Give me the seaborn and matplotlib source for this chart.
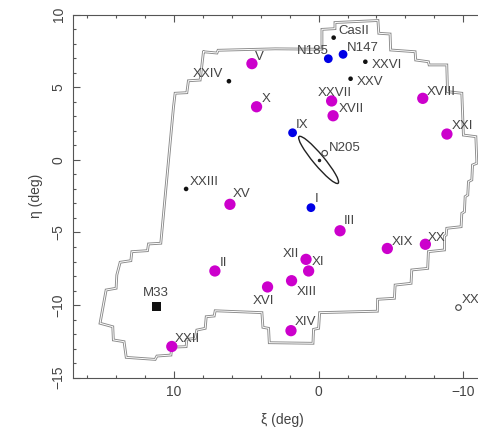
import pandas as pd
import matplotlib.pyplot as plt
import seaborn as sns
from matplotlib.patches import Ellipse
from matplotlib.ticker import MultipleLocator

# Andromeda dwarf spheroidals (magenta)
dsph_names = ['II', 'III', 'V', 'X', 'XI', 'XII', 'XIII', 'XIV', 'XV', 'XVI',
              'XVII', 'XVIII', 'XIX', 'XX', 'XXI', 'XXII', 'XXVII']
dsph_xi = [7.17, -1.48, 4.61, 4.29, 0.69, 0.87, 1.87, 1.91, 6.13, 3.53,
           -1.00, -7.20, -4.75, -7.38, -8.87, 10.15, -0.90]
dsph_eta = [-7.65, -4.88, 6.63, 3.66, -7.65, -6.85, -8.32, -11.76, -3.06, -8.75,
            3.04, 4.24, -6.10, -5.81, 1.78, -12.85, 4.06]

# blue satellites
blue_names = ['N185', 'N147', 'IX', 'I']
blue_xi = [-0.67, -1.69, 1.80, 0.53]
blue_eta = [6.97, 7.27, 1.87, -3.29]

# small black dots
dot_names = ['CasII', 'XXVI', 'XXV', 'XXIV', 'XXIII']
dot_xi = [-1.04, -3.23, -2.21, 6.20, 9.16]
dot_eta = [8.42, 6.76, 5.59, 5.42, -2.00]

# open circles
open_names = ['N205', 'XXIX']
open_xi = [-0.42, -9.67]
open_eta = [0.46, -10.17]

# M33
m33_xi = [11.23]
m33_eta = [-10.08]

# M31 disc ellipse
m31_xi, m31_eta = 0.0, 0.0
m31_major, m31_minor, m31_angle = 4.2, 0.75, 50

# survey footprint outline
foot_xi = [7.96, 7.03, 6.95, 3.00, -0.23, -0.23, -1.13, -1.13, -4.10, -4.16,
           -4.94, -4.98, -6.67, -6.71, -7.59, -7.64, -8.86, -8.91, -9.90, -10.01,
           -10.87, -10.94, -10.64, -10.59, -10.36, -10.31, -10.13, -10.08, -9.90, -9.85,
           -8.86, -8.82, -8.70, -8.70, -7.59, -7.54, -6.44, -6.39, -5.29, -5.24,
           -4.08, -4.06, -0.07, 0.00, 0.35, 0.39, 3.41, 3.46, 3.85, 3.92,
           7.15, 7.22, 7.77, 7.84, 8.42, 8.53, 9.11, 9.16, 10.15, 10.21,
           11.18, 11.30, 13.30, 13.45, 14.19, 14.23, 15.11, 14.69, 14.00, 13.95,
           13.72, 12.98, 12.91, 11.83, 11.76, 10.91, 10.03, 9.92, 9.11, 9.00,
           8.19, 7.96]
foot_eta = [7.45, 7.36, 7.55, 7.65, 7.62, 8.99, 9.04, 9.46, 9.60, 8.72,
            8.67, 7.57, 7.45, 6.88, 6.76, 6.54, 6.54, 4.70, 4.59, 1.71,
            1.60, -0.23, -0.35, -1.38, -1.50, -2.42, -2.53, -3.57, -3.68, -4.60,
            -4.71, -5.17, -5.25, -6.20, -6.32, -7.47, -7.58, -8.50, -8.62, -9.53,
            -9.60, -10.42, -10.52, -11.60, -11.67, -12.63, -12.59, -11.60, -11.53, -10.52,
            -10.39, -10.75, -10.80, -11.60, -11.72, -12.29, -12.36, -12.86, -12.90, -13.44,
            -13.51, -13.74, -13.60, -12.52, -12.40, -11.49, -11.25, -8.96, -8.84, -7.93,
            -7.05, -6.94, -6.32, -6.25, -5.79, -5.74, 3.66, 4.59, 4.63, 5.45,
            5.50, 7.45]

# label placement: (dx px, dy px, alignment)
label_offsets = {
    'II': (4.6, 5, 'left'), 'III': (3.3, 6.4, 'left'), 'V': (3.3, 4, 'left'),
    'X': (4.7, 5, 'left'), 'XI': (3.4, 6, 'left'), 'XII': (-6.7, 2.6, 'right'),
    'XIII': (5.4, -14.3, 'left'), 'XIV': (3.6, 5.7, 'left'), 'XV': (2.6, 7, 'left'),
    'XVI': (-4.5, -17.3, 'center'), 'XVII': (5.3, 3.3, 'left'),
    'XVIII': (4, 3.7, 'left'), 'XIX': (4.3, 3.7, 'left'), 'XX': (2.6, 3.3, 'left'),
    'XXI': (4.4, 4.7, 'left'), 'XXII': (2.6, 4, 'left'), 'XXVII': (3, 5, 'center'),
    'N185': (0, 4.4, 'right'), 'N147': (4, 3, 'left'), 'IX': (3.4, 4.4, 'left'),
    'I': (3.6, 6, 'left'), 'CasII': (4.4, 3.7, 'left'), 'XXVI': (6, -6.6, 'left'),
    'XXV': (6, -6.3, 'left'), 'XXIV': (-5.7, 4.3, 'right'), 'XXIII': (3.3, 4, 'left'),
    'M33': (-0.5, 10, 'center'), 'N205': (4, 2.7, 'left'), 'XXIX': (3.3, 4.4, 'left'),
}

sns.set_style('ticks')
plt.rcParams['font.family'] = ['Liberation Sans', 'DejaVu Sans']
text_col = '#444444'
axis_col = '#555555'

fig = plt.figure(figsize=(4.78, 4.28), dpi=100)
ax = fig.add_axes([72.7 / 478, 1 - 377.7 / 428, (492.2 - 72.7) / 478, 363 / 428])

# footprint: double line
ax.plot(foot_xi, foot_eta, color='#8a8a8a', lw=2.0, solid_joinstyle='miter', zorder=1)
ax.plot(foot_xi, foot_eta, color='white', lw=0.7, solid_joinstyle='miter', zorder=1.1)

# M31
ax.add_patch(Ellipse((m31_xi, m31_eta), m31_major, m31_minor, angle=m31_angle,
                     fill=False, ec='#222222', lw=1.0, zorder=2))
ax.plot([m31_xi], [m31_eta], marker='o', ms=1.5, color='#222222', zorder=2)

df_dsph = pd.DataFrame({'xi': dsph_xi, 'eta': dsph_eta})
df_blue = pd.DataFrame({'xi': blue_xi, 'eta': blue_eta})
df_dot = pd.DataFrame({'xi': dot_xi, 'eta': dot_eta})
df_open = pd.DataFrame({'xi': open_xi, 'eta': open_eta})
df_m33 = pd.DataFrame({'xi': m33_xi, 'eta': m33_eta})

sns.scatterplot(data=df_dsph, x='xi', y='eta', color='#cc00cc', s=66,
                edgecolor='none', ax=ax, zorder=3, legend=False)
sns.scatterplot(data=df_blue, x='xi', y='eta', color='#0000e6', s=40,
                edgecolor='none', ax=ax, zorder=3, legend=False)
sns.scatterplot(data=df_dot, x='xi', y='eta', color='#111111', s=11,
                edgecolor='none', ax=ax, zorder=3, legend=False)
sns.scatterplot(data=df_open, x='xi', y='eta', facecolor='none', edgecolor='#444444',
                s=16, linewidth=0.8, ax=ax, zorder=3, legend=False)
sns.scatterplot(data=df_m33, x='xi', y='eta', color='#111111', marker='s', s=40,
                edgecolor='none', ax=ax, zorder=3, legend=False)

all_names = dsph_names + blue_names + dot_names + open_names + ['M33']
all_xi = dsph_xi + blue_xi + dot_xi + open_xi + m33_xi
all_eta = dsph_eta + blue_eta + dot_eta + open_eta + m33_eta
for name, x, y in zip(all_names, all_xi, all_eta):
    dx, dy, ha = label_offsets[name]
    ax.annotate(name, (x, y), xytext=(dx, dy), textcoords='offset pixels',
                ha=ha, va='baseline', fontsize=9.5, color=text_col, zorder=4)

ax.set_xlim(17, -12)
ax.set_ylim(-15, 10)
ax.xaxis.set_major_locator(MultipleLocator(10))
ax.xaxis.set_minor_locator(MultipleLocator(2))
ax.yaxis.set_major_locator(MultipleLocator(5))
ax.yaxis.set_minor_locator(MultipleLocator(1))
ax.tick_params(which='both', direction='in', top=True, right=True,
               color=axis_col, labelcolor=text_col, labelsize=10, width=0.8)
ax.tick_params(which='major', length=5, pad=5)
ax.tick_params(which='minor', length=2.5)
plt.setp(ax.get_yticklabels(), rotation=90, va='center')
for sp in ax.spines.values():
    sp.set_color(axis_col)
    sp.set_linewidth(0.8)

ax.set_xlabel('ξ (deg)', fontsize=10, color=text_col, labelpad=10)
ax.set_ylabel('η (deg)', fontsize=10, color=text_col, labelpad=6)

fig.savefig('out.png', dpi=100)
